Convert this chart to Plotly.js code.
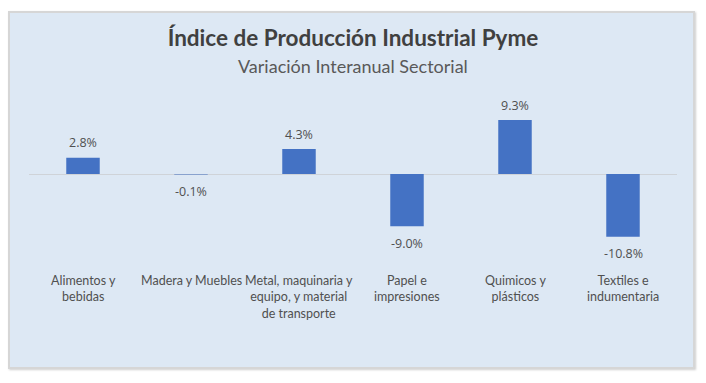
<!DOCTYPE html>
<html>
<head>
<meta charset="utf-8">
<script src="https://cdn.plot.ly/plotly-3.0.1.min.js"></script>
<style>
  html, body { margin: 0; padding: 0; background: #ffffff; width: 706px; height: 383px; overflow: hidden; }
  #frame { position: absolute; left: 8px; top: 11px; width: 683px; height: 354px;
           background: #dde8f4; border: 2px solid #d6d6d6; box-shadow: 1px 1px 2px #cfcfcf; }
  #chart { position: absolute; left: 0; top: 0; width: 706px; height: 383px; }
</style>
</head>
<body>
<div id="frame"></div>
<div id="chart"></div>
<script>
const categories = [
  "Alimentos y<br>bebidas",
  "Madera y Muebles",
  "Metal, maquinaria y<br>equipo, y material<br>de transporte",
  "Papel e<br>impresiones",
  "Quimicos y<br>plásticos",
  "Textiles e<br>indumentaria"
];
const values = [2.8, -0.1, 4.3, -9.0, 9.3, -10.8];
const valueLabels = ["2.8%", "-0.1%", "4.3%", "-9.0%", "9.3%", "-10.8%"];

const xs = categories.map((_, i) => i);

const trace = {
  type: "bar",
  x: xs,
  y: values,
  marker: { color: "#4472c4" },
  hoverinfo: "skip"
};

const valueAnnotations = values.map((v, i) => ({
  x: xs[i], y: v, xref: "x", yref: "y",
  text: valueLabels[i], showarrow: false,
  yanchor: "middle", yshift: v >= 0 ? 15 : -17,
  font: { family: "Open Sans, Arial, sans-serif", size: 12.5, color: "#505050" }
}));

const categoryAnnotations = categories.map((c, i) => ({
  x: xs[i], y: 0, xref: "x", yref: "paper",
  text: c, showarrow: false, yanchor: "top", yshift: -1,
  font: { family: "Lato, sans-serif", size: 12.5, color: "#505050" }
}));

const layout = {
  width: 706, height: 383,
  margin: { l: 29, r: 29, t: 95, b: 113, pad: 0 },
  paper_bgcolor: "rgba(0,0,0,0)",
  plot_bgcolor: "rgba(0,0,0,0)",
  showlegend: false,
  bargap: 0.69,
  title: {
    text: "<b>Índice de Producción Industrial Pyme</b>",
    x: 0.5, xanchor: "center", xref: "paper",
    y: 1 - 38 / 383, yanchor: "middle", yref: "container",
    font: { family: "Lato, sans-serif", size: 22.5, color: "#404040" }
  },
  xaxis: {
    range: [-0.5, 5.5], showticklabels: false, showgrid: false,
    zeroline: false, showline: false, ticks: "", fixedrange: true
  },
  yaxis: {
    range: [-16.55, 13.62], showticklabels: false, showgrid: false,
    zeroline: true, zerolinecolor: "#cfd3d8", zerolinewidth: 1,
    showline: false, ticks: "", fixedrange: true
  },
  annotations: [
    {
      text: "Variación Interanual Sectorial", showarrow: false,
      x: 0.5, xref: "paper", xanchor: "center",
      y: (270 - 66) / 175, yref: "paper", yanchor: "middle",
      font: { family: "Lato, sans-serif", size: 18, color: "#595959" }
    },
    ...valueAnnotations,
    ...categoryAnnotations
  ]
};

Plotly.newPlot("chart", [trace], layout, { displayModeBar: false, staticPlot: true });
</script>
</body>
</html>
